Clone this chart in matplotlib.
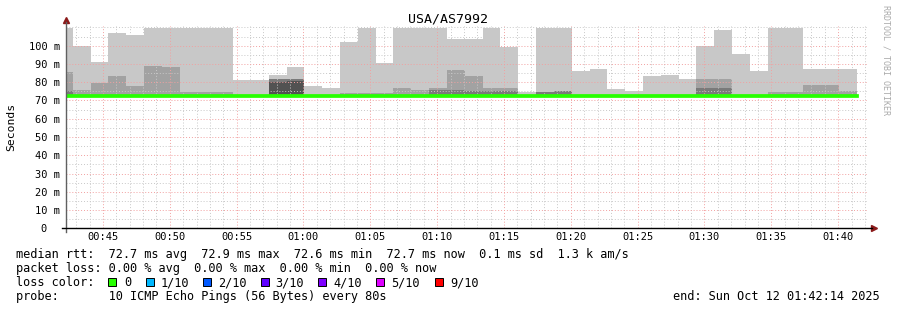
import numpy as np
import matplotlib
matplotlib.use('Agg')
import matplotlib.pyplot as plt
from matplotlib.patches import Rectangle

plt.rcParams['font.family'] = ['DejaVu Sans Mono']

# time axis in minutes after midnight, 80 s ping steps
t_start = 42 + 14/60
t_end = 102 + 14/60
t_first = 42 + 44/60
step = 80/60

# smoke levels (ms), 0 = band not present
p10 = [109.7, 99.8, 91.1, 106.9, 105.9, 109.7, 109.7, 109.7, 109.7, 109.7,
       81.2, 81.2, 84.0, 88.3, 77.9, 76.8, 102.0, 109.7, 90.5, 109.7,
       109.7, 109.7, 103.7, 103.7, 109.7, 99.3, 74.6, 109.7, 109.7, 86.1,
       87.2, 76.3, 75.2, 83.4, 83.9, 81.8, 100.0, 108.6, 95.4, 86.1,
       109.7, 109.7, 87.2, 87.2, 87.2]
p9 = [85.8, 75.7, 79.6, 83.4, 77.9, 88.9, 88.3, 74.5, 74.5, 74.5,
      0, 0, 0, 0, 0, 0, 74.3, 74.3, 74.3, 76.8,
      75.7, 76.8, 86.7, 83.4, 76.8, 76.8, 0, 0, 0, 0,
      0, 0, 0, 0, 0, 0, 81.8, 81.8, 0, 0,
      74.6, 74.6, 78.5, 78.5, 75.2]
p8 = [75.4, 0, 0, 0, 0, 0, 0, 0, 0, 0,
      0, 0, 81.8, 81.8, 0, 0, 0, 0, 0, 0,
      0, 75.7, 75.7, 75.2, 75.2, 75.2, 0, 74.6, 75.2, 0,
      0, 0, 0, 0, 0, 0, 76.8, 76.8, 0, 0,
      0, 0, 0, 0, 0]
p7 = [0, 0, 0, 0, 0, 0, 0, 0, 0, 0,
      0, 0, 79.9, 80.5, 0, 0, 0, 0, 0, 0,
      0, 0, 0, 0, 0, 0, 0, 0, 0, 0,
      0, 0, 0, 0, 0, 0, 0, 0, 0, 0,
      0, 0, 0, 0, 0]
median = [72.7] * 45
median[26] = 72.5
median[35] = 72.4

y_ticks = [0, 10, 20, 30, 40, 50, 60, 70, 80, 90, 100]
y_labels = ['0  '] + ['%d m' % v for v in y_ticks[1:]]
x_ticks = [45, 50, 55, 60, 65, 70, 75, 80, 85, 90, 95, 100]
x_labels = ['00:45', '00:50', '00:55', '01:00', '01:05', '01:10',
            '01:15', '01:20', '01:25', '01:30', '01:35', '01:40']

loss_names = ['0', '1/10', '2/10', '3/10', '4/10', '5/10', '9/10']
loss_cols = ['#26ff00', '#00b8ff', '#0059ff', '#5e00ff', '#7e00ff', '#dd00ff', '#ff0000']

W, H = 897, 310
fig = plt.figure(figsize=(W/100, H/100), dpi=100)
fig.patch.set_facecolor('white')
ax = fig.add_axes([66/W, (H-228.3)/H, 802/W, 202.3/H])

edges = [t_start] + [t_first + k*step for k in range(45)]
base = 72.6
base_arr = np.full(len(edges), base)

def stepvals(v):
    v = np.maximum(np.array(v, dtype=float), base)
    return np.append(v, v[-1])

for vals, col in [(p10, '#c8c8c8'), (p9, '#a2a2a2'), (p8, '#7a7a7a'), (p7, '#525252')]:
    ax.fill_between(edges, base_arr, stepvals(vals), step='post', color=col, lw=0, zorder=1)

ax.step(edges, stepvals(median), where='post', color='#26ff00', lw=2.7, zorder=4)

ax.set_xlim(t_start, t_end)
ax.set_ylim(0, 110.8)

# grid
for m in range(43, 103):
    if m % 5:
        ax.axvline(m, color='#c8c8c8', lw=0.7, ls=(0, (1, 2)), zorder=2)
for v in range(5, 115, 10):
    ax.axhline(v, color='#c8c8c8', lw=0.7, ls=(0, (1, 2)), zorder=2)
for m in x_ticks:
    ax.axvline(m, color='#f2a0a0', lw=0.7, ls=(0, (1, 2)), zorder=2.5)
for v in y_ticks[1:] + [110]:
    ax.axhline(v, color='#f2a0a0' if v != 110 else '#c8c8c8', lw=0.7, ls=(0, (1, 2)), zorder=2.5)

ax.set_yticks(y_ticks)
ax.set_yticklabels(y_labels)
ax.set_xticks(x_ticks)
ax.set_xticklabels(x_labels)
ax.tick_params(length=0, labelsize=7.5, colors='black')
ax.tick_params(axis='y', pad=4.3)
ax.tick_params(axis='x', pad=2.5)

for s in ['top', 'right', 'left', 'bottom']:
    ax.spines[s].set_visible(False)
ax.plot([0, 0], [-4/202.3, 1 + 4/202.3], transform=ax.transAxes, clip_on=False,
        color='#606060', lw=1, zorder=5)
ax.plot([-4/802, 1 + 4/802], [0, 0], transform=ax.transAxes, clip_on=False,
        color='black', lw=1, zorder=5)
ax.plot([0], [1 + 6/202.3], marker='^', ms=5, color='#8b1a1a', transform=ax.transAxes, clip_on=False)
ax.plot([1 + 6/802], [0], marker='>', ms=5, color='#8b1a1a', transform=ax.transAxes, clip_on=False)

fig.text(448/W, 1 - 19.5/H, 'USA/AS7992', ha='center', va='center', fontsize=9.5)
fig.text(11/W, 1 - 126.5/H, 'Seconds', ha='center', va='center', rotation=90, fontsize=8.2)
fig.text(886/W, 1 - 60/H, 'RRDTOOL / TOBI OETIKER', ha='center', va='center', rotation=270,
         fontsize=6, color='#aaaaaa')

fs = 8.55
lines = [
    'median rtt:  72.7 ms avg  72.9 ms max  72.6 ms min  72.7 ms now  0.1 ms sd  1.3 k am/s',
    'packet loss: 0.00 % avg  0.00 % max  0.00 % min  0.00 % now',
    'loss color:',
    'probe:       10 ICMP Echo Pings (56 Bytes) every 80s',
]
for i, s in enumerate(lines):
    fig.text(16/W, 1 - (258 + 14*i)/H, s, ha='left', va='baseline', fontsize=fs)
fig.text(880/W, 1 - 300/H, 'end: Sun Oct 12 01:42:14 2025', ha='right', va='baseline', fontsize=fs)

sq_x = [108.3, 146, 203.3, 261, 318.3, 376, 435]
lab_x = [124, 160.7, 218.3, 275.7, 333.3, 390.7, 450]
for name, col, sx, lx in zip(loss_names, loss_cols, sq_x, lab_x):
    fig.patches.append(Rectangle((sx/W, 1 - 286/H), 7.5/W, 8/H, transform=fig.transFigure,
                                 facecolor=col, edgecolor='black', lw=0.7))
    fig.text(lx/W, 1 - 286/H, name, ha='left', va='baseline', fontsize=fs)

fig.savefig('out.png', dpi=100)
